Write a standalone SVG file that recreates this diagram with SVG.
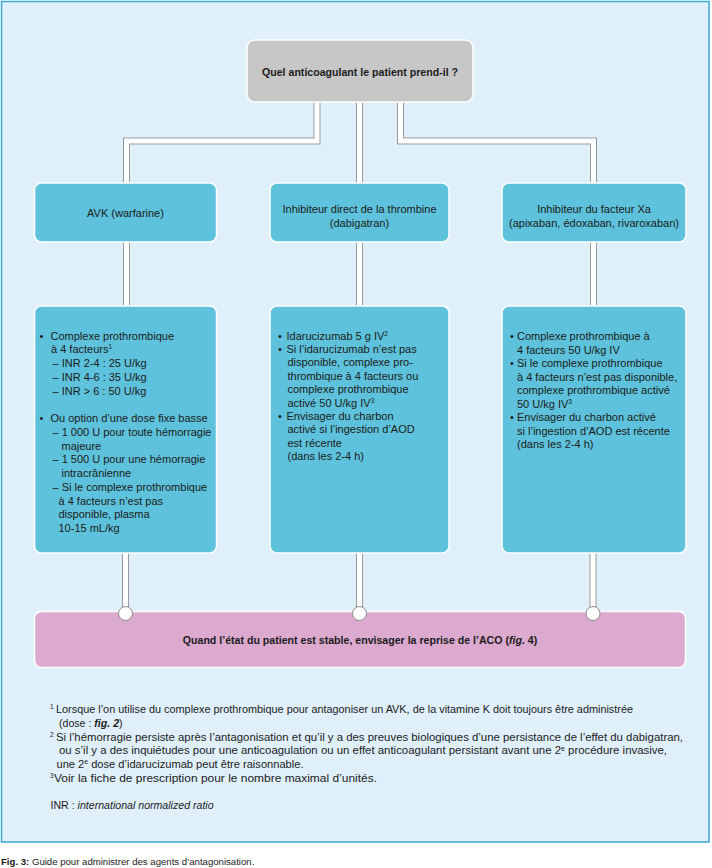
<svg xmlns="http://www.w3.org/2000/svg" width="712" height="868" viewBox="0 0 712 868">
<style>
text{font-family:"Liberation Sans",Arial,sans-serif;fill:#1b1b1b;}
.t{font-size:11px;}
.h{font-size:11px;text-anchor:middle;}
.bold{font-size:10.6px;font-weight:bold;text-anchor:middle;}
.fn{font-size:10.6px;}
.cap{font-size:9.6px;}
.sup{font-size:6.5px;}
.frame{fill:#dff0fb;stroke:#3aa6d3;stroke-width:1.5;}
.q{fill:#c7c7c7;stroke:#fff;stroke-width:1.5;}
.b{fill:#5ec2dc;stroke:#fff;stroke-width:1.5;}
.p{fill:#dca9cf;stroke:#fff;stroke-width:1.5;}
.co{fill:none;stroke:#9a9a9a;stroke-width:7;}
.ci{fill:none;stroke:#fff;stroke-width:5;}
.end{fill:#fff;stroke:#8a8a8a;stroke-width:1;}
</style>
<rect class="frame" x="1.5" y="1.5" width="707.5" height="840.5"/>
<g id="connectors">
<path class="co" d="M317 101V141H126.5V184M359.5 101V184M400.5 101V141H593.5V184M126.5 242V307M359.5 242V307M593.5 242V307M125.5 553V608M359.5 553V608M593 553V608"/>
<path class="ci" d="M317 101V141H126.5V184M359.5 101V184M400.5 101V141H593.5V184M126.5 242V307M359.5 242V307M593.5 242V307M125.5 553V608M359.5 553V608M593 553V608"/>
</g>
<g id="n-question">
<rect class="q" x="247" y="40" width="226" height="62" rx="8"/>
<text class="bold" x="360" y="75.5">Quel anticoagulant le patient prend-il ?</text>
</g>
<g id="n-avk">
<rect class="b" x="34.5" y="183" width="182" height="59" rx="7"/>
<text class="h" x="125.5" y="217">AVK (warfarine)</text>
</g>
<g id="n-thrombine">
<rect class="b" x="270" y="183" width="179" height="59" rx="7"/>
<text class="h" x="359.5" y="213">Inhibiteur direct de la thrombine</text>
<text class="h" x="359.5" y="226.5">(dabigatran)</text>
</g>
<g id="n-xa">
<rect class="b" x="502" y="183" width="184" height="59" rx="7"/>
<text class="h" x="594" y="213">Inhibiteur du facteur Xa</text>
<text class="h" x="594" y="226.5">(apixaban, édoxaban, rivaroxaban)</text>
</g>
<g id="n-avk-detail">
<rect class="b" x="34.5" y="306" width="182" height="247" rx="7"/>
<text class="t" x="39.5" y="339.5">•</text>
<text class="t" x="50.5" y="339.5">Complexe prothrombique</text>
<text class="t" x="51" y="353.25">à 4 facteurs<tspan class="sup" dy="-4">1</tspan></text>
<text class="t" x="52.5" y="367">– INR 2-4 : 25 U/kg</text>
<text class="t" x="52.5" y="380.75">– INR 4-6 : 35 U/kg</text>
<text class="t" x="52.5" y="394.5">– INR &gt; 6 : 50 U/kg</text>
<text class="t" x="39.5" y="422">•</text>
<text class="t" x="50.5" y="422">Ou option d’une dose fixe basse</text>
<text class="t" x="52.5" y="435.75">– 1 000 U pour toute hémorragie</text>
<text class="t" x="61.5" y="449.5">majeure</text>
<text class="t" x="52.5" y="463.25">– 1 500 U pour une hémorragie</text>
<text class="t" x="61.5" y="477">intracrânienne</text>
<text class="t" x="52.5" y="490.75">– Si le complexe prothrombique</text>
<text class="t" x="58.5" y="504.5">à 4 facteurs n’est pas</text>
<text class="t" x="58.5" y="518.25">disponible, plasma</text>
<text class="t" x="58.5" y="532">10-15 mL/kg</text>
</g>
<g id="n-thrombine-detail">
<rect class="b" x="270" y="306" width="179" height="247" rx="7"/>
<text class="t" x="278" y="339.5">•</text>
<text class="t" x="286.5" y="339.5">Idarucizumab 5 g IV<tspan class="sup" dy="-4">2</tspan></text>
<text class="t" x="278" y="352.9">•</text>
<text class="t" x="286.5" y="352.9">Si l’idarucizumab n’est pas</text>
<text class="t" x="287.5" y="366.3">disponible, complexe pro-</text>
<text class="t" x="287.5" y="379.7">thrombique à 4 facteurs ou</text>
<text class="t" x="287.5" y="393.1">complexe prothrombique</text>
<text class="t" x="287.5" y="406.5">activé 50 U/kg IV<tspan class="sup" dy="-4">3</tspan></text>
<text class="t" x="278" y="419.9">•</text>
<text class="t" x="286.5" y="419.9">Envisager du charbon</text>
<text class="t" x="287.5" y="433.3">activé si l’ingestion d’AOD</text>
<text class="t" x="287.5" y="446.7">est récente</text>
<text class="t" x="287.5" y="460.1">(dans les 2-4 h)</text>
</g>
<g id="n-xa-detail">
<rect class="b" x="502" y="306" width="184" height="247" rx="7"/>
<text class="t" x="510" y="340">•</text>
<text class="t" x="517" y="340">Complexe prothrombique à</text>
<text class="t" x="517" y="353.5">4 facteurs 50 U/kg IV</text>
<text class="t" x="510" y="367">•</text>
<text class="t" x="517" y="367">Si le complexe prothrombique</text>
<text class="t" x="517" y="380.5">à 4 facteurs n’est pas disponible,</text>
<text class="t" x="517" y="394">complexe prothrombique activé</text>
<text class="t" x="517" y="407.5">50 U/kg IV<tspan class="sup" dy="-4">3</tspan></text>
<text class="t" x="510" y="421">•</text>
<text class="t" x="517" y="421">Envisager du charbon activé</text>
<text class="t" x="517" y="434.5">si l’ingestion d’AOD est récente</text>
<text class="t" x="517" y="448">(dans les 2-4 h)</text>
</g>
<g id="n-reprise">
<rect class="p" x="34.5" y="611.5" width="651" height="56" rx="7"/>
<text class="bold" x="360" y="644">Quand l’état du patient est stable, envisager la reprise de l’ACO (<tspan font-style="italic">fig.</tspan> 4)</text>
</g>
<g id="connector-ends">
<circle class="end" cx="125.5" cy="613.5" r="7"/>
<circle class="end" cx="359.5" cy="613.5" r="7"/>
<circle class="end" cx="593" cy="613.5" r="7"/>
</g>
<g id="footnotes">
<text class="sup" x="50" y="709">1</text>
<text class="fn" x="56" y="712.5" textLength="577" lengthAdjust="spacingAndGlyphs">Lorsque l’on utilise du complexe prothrombique pour antagoniser un AVK, de la vitamine K doit toujours être administrée</text>
<text class="fn" x="59" y="726.5">(dose : <tspan font-weight="bold" font-style="italic">fig. 2</tspan>)</text>
<text class="sup" x="50" y="737">2</text>
<text class="fn" x="56" y="740.5" textLength="627" lengthAdjust="spacingAndGlyphs">Si l’hémorragie persiste après l’antagonisation et qu’il y a des preuves biologiques d’une persistance de l’effet du dabigatran,</text>
<text class="fn" x="59" y="754" textLength="608" lengthAdjust="spacingAndGlyphs">ou s’il y a des inquiétudes pour une anticoagulation ou un effet anticoagulant persistant avant une 2<tspan class="sup" dy="-3.5">e</tspan><tspan dy="3.5"> procédure invasive,</tspan></text>
<text class="fn" x="56.5" y="767.5" textLength="247" lengthAdjust="spacingAndGlyphs">une 2<tspan class="sup" dy="-3.5">e</tspan><tspan dy="3.5"> dose d’idarucizumab peut être raisonnable.</tspan></text>
<text class="sup" x="50" y="778">3</text>
<text class="fn" x="54" y="781.5" textLength="323" lengthAdjust="spacingAndGlyphs">Voir la fiche de prescription pour le nombre maximal d’unités.</text>
<text class="fn" x="50.5" y="808.5">INR : <tspan font-style="italic">international normalized ratio</tspan></text>
</g>
<text class="cap" x="1" y="865"><tspan font-weight="bold">Fig. 3:</tspan> Guide pour administrer des agents d’antagonisation.</text>
</svg>
